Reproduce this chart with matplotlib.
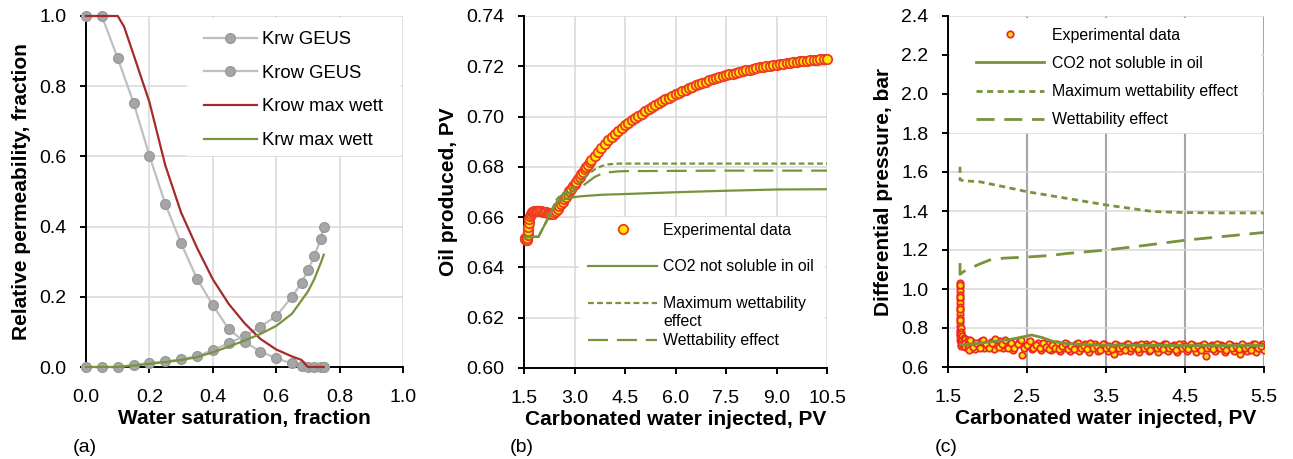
import matplotlib
matplotlib.use('Agg')
import matplotlib.pyplot as plt
from matplotlib.patches import Rectangle

plt.rcParams['font.family'] = ['Liberation Sans', 'DejaVu Sans']

# ---------------- Panel (a) data ----------------
sw_geus = [0.00, 0.05, 0.10, 0.15, 0.20, 0.25, 0.30, 0.35, 0.40, 0.45, 0.50, 0.55,
           0.60, 0.65, 0.68, 0.70, 0.72, 0.74, 0.75]
krw_geus = [0.000, 0.000, 0.000, 0.006, 0.012, 0.016, 0.022, 0.031, 0.048, 0.068, 0.088,
            0.115, 0.145, 0.200, 0.240, 0.276, 0.315, 0.364, 0.400]
krow_geus = [1.000, 1.000, 0.880, 0.753, 0.602, 0.465, 0.352, 0.252, 0.176, 0.108, 0.072,
             0.044, 0.025, 0.010, 0.003, 0.000, 0.000, 0.000, 0.000]
sw_krow_mw = [0.00, 0.10, 0.12, 0.15, 0.20, 0.25, 0.30, 0.35, 0.40, 0.45, 0.50, 0.55,
              0.60, 0.65, 0.68, 0.70, 0.75]
krow_mw = [1.000, 1.000, 0.970, 0.890, 0.755, 0.575, 0.440, 0.340, 0.250, 0.180, 0.125,
           0.080, 0.050, 0.030, 0.020, 0.000, 0.000]
sw_krw_mw = [0.00, 0.10, 0.15, 0.20, 0.25, 0.30, 0.35, 0.40, 0.45, 0.50, 0.55, 0.60,
             0.65, 0.70, 0.72, 0.74, 0.75]
krw_mw = [0.000, 0.000, 0.004, 0.009, 0.014, 0.020, 0.028, 0.042, 0.058, 0.075, 0.094,
          0.117, 0.152, 0.215, 0.250, 0.295, 0.320]
ticks_a = [0.0, 0.2, 0.4, 0.6, 0.8, 1.0]
ticklabels_a = ['0.0', '0.2', '0.4', '0.6', '0.8', '1.0']

# ---------------- Panel (b) data ----------------
pv_exp_b = [1.52, 1.54, 1.56, 1.58, 1.60, 1.61, 1.62, 1.63, 1.64, 1.66, 1.68, 1.70, 1.73,
            1.76, 1.80, 1.85, 1.90, 1.95, 2.00, 2.05, 2.10, 2.15, 2.20, 2.25, 2.30, 2.35,
            2.40, 2.45, 2.50, 2.55, 2.60, 2.65, 2.70, 2.75, 2.80, 2.85, 2.90, 2.95, 3.00,
            3.05, 3.10, 3.15, 3.20, 3.25, 3.30, 3.35, 3.40, 3.45, 3.50, 3.60, 3.70, 3.80,
            3.90, 4.00, 4.10, 4.20, 4.30, 4.40, 4.50, 4.60, 4.70, 4.80, 4.90, 5.00, 5.10,
            5.20, 5.30, 5.40, 5.50, 5.60, 5.70, 5.80, 5.90, 6.00, 6.10, 6.20, 6.30, 6.40,
            6.50, 6.60, 6.70, 6.80, 6.90, 7.00, 7.10, 7.20, 7.30, 7.40, 7.50, 7.60, 7.70,
            7.80, 7.90, 8.00, 8.10, 8.20, 8.30, 8.40, 8.50, 8.60, 8.70, 8.80, 8.90, 9.00,
            9.10, 9.20, 9.30, 9.40, 9.50, 9.60, 9.70, 9.80, 9.90, 10.00, 10.10, 10.20,
            10.30, 10.40, 10.50]
oil_exp_b = [0.6518, 0.6512, 0.6510, 0.6511, 0.6518, 0.6530, 0.6545, 0.6560, 0.6575, 0.6592,
             0.6605, 0.6613, 0.6619, 0.6622, 0.6623, 0.6624, 0.6624, 0.6623, 0.6623, 0.6622,
             0.6621, 0.6619, 0.6616, 0.6613, 0.6612, 0.6614, 0.6619, 0.6626, 0.6634, 0.6643,
             0.6652, 0.6662, 0.6672, 0.6682, 0.6692, 0.6702, 0.6712, 0.6722, 0.6731, 0.6741,
             0.6751, 0.6761, 0.6771, 0.6781, 0.6790, 0.6800, 0.6809, 0.6818, 0.6827, 0.6844,
             0.6860, 0.6876, 0.6891, 0.6905, 0.6918, 0.6931, 0.6943, 0.6954, 0.6965, 0.6975,
             0.6985, 0.6994, 0.7003, 0.7012, 0.7021, 0.7030, 0.7038, 0.7046, 0.7054, 0.7061,
             0.7068, 0.7075, 0.7082, 0.7089, 0.7095, 0.7101, 0.7107, 0.7113, 0.7119, 0.7124,
             0.7129, 0.7134, 0.7139, 0.7144, 0.7148, 0.7152, 0.7156, 0.7160, 0.7164, 0.7168,
             0.7171, 0.7175, 0.7178, 0.7181, 0.7184, 0.7187, 0.7190, 0.7193, 0.7196, 0.7198,
             0.7201, 0.7203, 0.7205, 0.7207, 0.7209, 0.7211, 0.7213, 0.7215, 0.7217, 0.7218,
             0.7220, 0.7221, 0.7223, 0.7224, 0.7225, 0.7226, 0.7227, 0.7228, 0.7229]
pv_sim_b = [1.50, 1.70, 1.93, 2.20, 2.47, 2.60, 2.80, 3.00, 3.20, 3.40, 3.60, 3.80, 4.00,
            4.30, 4.50, 6.00, 7.50, 9.00, 10.50]
co2_insol_b = [0.6520, 0.6521, 0.6522, 0.6592, 0.6660, 0.6668, 0.6675, 0.6680, 0.6683,
               0.6685, 0.6687, 0.6689, 0.6690, 0.6691, 0.6692, 0.6699, 0.6705, 0.6710, 0.6711]
max_wett_b = [0.6520, 0.6521, 0.6522, 0.6592, 0.6670, 0.6690, 0.6705, 0.6722, 0.6745,
              0.6770, 0.6790, 0.6803, 0.6810, 0.6813, 0.6813, 0.6813, 0.6813, 0.6813, 0.6813]
wett_b = [0.6520, 0.6521, 0.6522, 0.6592, 0.6668, 0.6685, 0.6695, 0.6705, 0.6720,
          0.6740, 0.6760, 0.6772, 0.6778, 0.6782, 0.6783, 0.6784, 0.6785, 0.6785, 0.6785]
xticks_b = [1.5, 3.0, 4.5, 6.0, 7.5, 9.0, 10.5]
xticklabels_b = ['1.5', '3.0', '4.5', '6.0', '7.5', '9.0', '10.5']
yticks_b = [0.60, 0.62, 0.64, 0.66, 0.68, 0.70, 0.72, 0.74]
yticklabels_b = ['0.60', '0.62', '0.64', '0.66', '0.68', '0.70', '0.72', '0.74']

# ---------------- Panel (c) data ----------------
pv_exp_c = [1.650, 1.650, 1.650, 1.650, 1.650, 1.650, 1.650, 1.650, 1.650, 1.650, 1.650,
            1.650, 1.650, 1.650, 1.655, 1.655, 1.655, 1.655, 1.655, 1.655, 1.655,
            1.66, 1.66, 1.66, 1.66, 1.66, 1.67, 1.67, 1.67, 1.67, 1.68, 1.68, 1.68,
            1.70, 1.70, 1.70, 1.72, 1.72, 1.72, 1.75, 1.75, 1.75, 1.77,
            1.80, 1.84, 1.88, 1.92, 1.96, 2.00, 2.04, 2.08, 2.12, 2.16, 2.20, 2.24, 2.28,
            2.32, 2.36, 2.40, 2.44, 2.48, 2.52, 2.56, 2.60, 2.64, 2.68, 2.72, 2.76, 2.80,
            2.84, 2.88, 2.92, 2.96, 3.00, 3.04, 3.08, 3.12, 3.16, 3.20, 3.24, 3.28, 3.32,
            3.36, 3.40, 3.44, 3.48, 3.52, 3.56, 3.60, 3.64, 3.68, 3.72, 3.76, 3.80, 3.84,
            3.88, 3.92, 3.96, 4.00, 4.04, 4.08, 4.12, 4.16, 4.20, 4.24, 4.28, 4.32, 4.36,
            4.40, 4.44, 4.48, 4.52, 4.56, 4.60, 4.64, 4.68, 4.72, 4.76, 4.80, 4.84, 4.88,
            4.92, 4.96, 5.00, 5.04, 5.08, 5.12, 5.16, 5.20, 5.24, 5.28, 5.32, 5.36, 5.40,
            5.44, 5.48, 5.50]
dp_exp_c = [1.03, 1.01, 0.99, 0.97, 0.95, 0.93, 0.91, 0.89, 0.87, 0.85, 0.83,
            0.81, 0.79, 0.77, 1.02, 0.96, 0.90, 0.84, 0.78, 0.76, 0.74,
            0.80, 0.78, 0.76, 0.74, 0.72, 0.77, 0.75, 0.73, 0.71, 0.76, 0.74, 0.72,
            0.75, 0.73, 0.71, 0.745, 0.725, 0.705, 0.74, 0.72, 0.70, 0.687,
            0.730, 0.690, 0.715, 0.735, 0.695, 0.710, 0.730, 0.690, 0.715, 0.735, 0.695,
            0.710, 0.730, 0.685, 0.715, 0.730, 0.660, 0.705, 0.725, 0.690, 0.710, 0.725,
            0.685, 0.705, 0.720, 0.685, 0.700, 0.720, 0.680, 0.700, 0.720, 0.680, 0.700,
            0.720, 0.680, 0.700, 0.720, 0.675, 0.700, 0.720, 0.680, 0.700, 0.720, 0.680,
            0.695, 0.665, 0.715, 0.680, 0.700, 0.720, 0.680, 0.700, 0.715, 0.675, 0.700,
            0.720, 0.680, 0.695, 0.715, 0.675, 0.700, 0.720, 0.680, 0.695, 0.715, 0.675,
            0.700, 0.720, 0.680, 0.695, 0.715, 0.675, 0.700, 0.715, 0.655, 0.695, 0.715,
            0.680, 0.700, 0.715, 0.675, 0.695, 0.715, 0.680, 0.700, 0.665, 0.715, 0.680,
            0.700, 0.720, 0.675, 0.695, 0.720, 0.685]
pv_exp_c2 = [1.78, 1.82, 1.86, 1.90, 1.94, 1.98, 2.02, 2.06, 2.10, 2.14,
             2.18, 2.22, 2.26, 2.30, 2.34, 2.38, 2.42, 2.46, 2.50, 2.54,
             2.58, 2.62, 2.66, 2.70, 2.74, 2.78, 2.82, 2.86, 2.90, 2.94,
             2.98, 3.02, 3.06, 3.10, 3.14, 3.18, 3.22, 3.26, 3.30, 3.34,
             3.38, 3.42, 3.46, 3.50, 3.54, 3.58, 3.62, 3.66, 3.70, 3.74,
             3.78, 3.82, 3.86, 3.90, 3.94, 3.98, 4.02, 4.06, 4.10, 4.14,
             4.18, 4.22, 4.26, 4.30, 4.34, 4.38, 4.42, 4.46, 4.50, 4.54,
             4.58, 4.62, 4.66, 4.70, 4.74, 4.78, 4.82, 4.86, 4.90, 4.94,
             4.98, 5.02, 5.06, 5.10, 5.14, 5.18, 5.22, 5.26, 5.30, 5.34,
             5.38, 5.42, 5.46]
dp_exp_c2 = [0.740, 0.705, 0.725, 0.700, 0.740, 0.720, 0.700, 0.725, 0.745, 0.705,
             0.720, 0.740, 0.700, 0.725, 0.700, 0.720, 0.740, 0.695, 0.715, 0.735,
             0.700, 0.715, 0.695, 0.725, 0.705, 0.690, 0.715, 0.700, 0.690, 0.710,
             0.725, 0.690, 0.710, 0.690, 0.725, 0.695, 0.710, 0.690, 0.725, 0.695,
             0.710, 0.685, 0.720, 0.695, 0.710, 0.690, 0.720, 0.695, 0.710, 0.685,
             0.720, 0.695, 0.710, 0.690, 0.720, 0.695, 0.710, 0.685, 0.720, 0.695,
             0.710, 0.690, 0.720, 0.695, 0.710, 0.685, 0.720, 0.695, 0.710, 0.690,
             0.720, 0.695, 0.710, 0.685, 0.720, 0.695, 0.710, 0.690, 0.720, 0.695,
             0.710, 0.685, 0.720, 0.695, 0.710, 0.690, 0.720, 0.695, 0.710, 0.685,
             0.720, 0.695, 0.710]
pv_co2_c = [1.66, 1.70, 2.00, 2.30, 2.56, 2.70, 2.83, 3.00, 3.34, 4.00, 4.50, 5.00, 5.50]
co2_insol_c = [0.715, 0.713, 0.727, 0.742, 0.764, 0.750, 0.731, 0.720, 0.713, 0.711,
               0.710, 0.710, 0.710]
pv_maxw_c = [1.652, 1.652, 1.70, 1.90, 2.20, 2.50, 3.00, 3.50, 4.10, 4.50, 5.00, 5.50]
max_wett_c = [1.627, 1.560, 1.555, 1.550, 1.525, 1.499, 1.465, 1.431, 1.397, 1.392,
              1.390, 1.390]
pv_wett_c = [1.652, 1.652, 1.70, 1.78, 1.90, 2.03, 2.20, 2.50, 2.80, 3.00, 3.51, 4.00,
             4.52, 5.00, 5.50]
wett_c = [1.133, 1.075, 1.090, 1.106, 1.128, 1.149, 1.158, 1.164, 1.172, 1.182, 1.200,
          1.224, 1.251, 1.270, 1.290]
xticks_c = [1.5, 2.5, 3.5, 4.5, 5.5]
xticklabels_c = ['1.5', '2.5', '3.5', '4.5', '5.5']
yticks_c = [0.6, 0.8, 1.0, 1.2, 1.4, 1.6, 1.8, 2.0, 2.2, 2.4]
yticklabels_c = ['0.6', '0.8', '1.0', '1.2', '1.4', '1.6', '1.8', '2.0', '2.2', '2.4']

# ---------------- styling ----------------
GRID = '#D9D9D9'
GRID_DARK = '#A6A6A6'
GRAY_LINE = '#BFBFBF'
GRAY_MK = '#A6A6A6'
RED = '#A52A2A'
GREEN = '#77933C'
YEL = '#FFE800'
ORG = '#EE3A22'
TICK_FS = 14
LABEL_FS = 15
W, H = 1293, 459

fig = plt.figure(figsize=(W / 100, H / 100), dpi=100)


def px_axes(x0, x1, ytop, ybot):
    return fig.add_axes([x0 / W, 1 - ybot / H, (x1 - x0) / W, (ybot - ytop) / H])


def style(ax, xt, xtl, yt, ytl, vgrid=GRID, vlw=1.1):
    ax.set_xticks(xt)
    ax.set_xticklabels(xtl)
    ax.set_yticks(yt)
    ax.set_yticklabels(ytl)
    ax.set_axisbelow(True)
    ax.grid(True, axis='y', color=GRID, lw=1.1)
    ax.grid(True, axis='x', color=vgrid, lw=vlw)
    for s in ('top', 'right'):
        ax.spines[s].set_visible(False)
    for s in ('left', 'bottom'):
        ax.spines[s].set_linewidth(1.4)
        ax.spines[s].set_color('black')
    ax.tick_params(direction='out', length=4, width=1.4, labelsize=TICK_FS, colors='black')
    ax.tick_params(axis='x', pad=12)
    ax.tick_params(axis='y', pad=10)


def white_box(ax, x0, y0, x1, y1):
    ax.add_patch(Rectangle((x0, y0), x1 - x0, y1 - y0, transform=ax.transAxes,
                           facecolor='white', edgecolor='none', zorder=1))


# ---------------- (a) ----------------
axa = px_axes(86, 403, 16, 367)
style(axa, ticks_a, ticklabels_a, ticks_a, ticklabels_a)
axa.set_xlim(0, 1)
axa.set_ylim(0, 1)
white_box(axa, 0.318, 0.60, 0.995, 0.995)
axa.plot(sw_geus, krw_geus, color=GRAY_LINE, lw=1.6, marker='o', ms=7,
         mfc=GRAY_MK, mec='#999999', mew=1.0, label='Krw GEUS', clip_on=False, zorder=3)
axa.plot(sw_geus, krow_geus, color=GRAY_LINE, lw=1.6, marker='o', ms=7,
         mfc=GRAY_MK, mec='#999999', mew=1.0, label='Krow GEUS', clip_on=False, zorder=3)
axa.plot(sw_krow_mw, krow_mw, color=RED, lw=1.6, label='Krow max wett', clip_on=False, zorder=4)
axa.plot(sw_krw_mw, krw_mw, color=GREEN, lw=1.6, label='Krw max wett', clip_on=False, zorder=4)
axa.legend(loc='upper left', bbox_to_anchor=(0.372, 0.957), frameon=False, borderpad=0,
           borderaxespad=0, fontsize=13.3, handlelength=2.86, handletextpad=0.27,
           labelspacing=0.90, numpoints=1)
axa.set_xlabel('Water saturation, fraction', fontsize=LABEL_FS, fontweight='bold', labelpad=2)
axa.set_ylabel('Relative permeability, fraction', fontsize=LABEL_FS, fontweight='bold',
               labelpad=6)

# ---------------- (b) ----------------
axb = px_axes(524, 827, 16, 368)
style(axb, xticks_b, xticklabels_b, yticks_b, yticklabels_b)
axb.set_xlim(1.5, 10.5)
axb.set_ylim(0.60, 0.74)
white_box(axb, 0.18, 0.003, 0.993, 0.429)
axb.plot(pv_exp_b, oil_exp_b, ls='none', marker='o', ms=6.8, mfc=YEL, mec=ORG, mew=1.3,
         label='Experimental data', clip_on=False, zorder=3)
axb.plot(pv_sim_b, co2_insol_b, color=GREEN, lw=1.6, label='CO2 not soluble in oil', zorder=4)
axb.plot(pv_sim_b, max_wett_b, color=GREEN, lw=1.6, ls=(0, (2.6, 1.5)),
         label='Maximum wettability', zorder=4)
axb.plot(pv_sim_b, wett_b, color=GREEN, lw=1.6, ls=(0, (9, 4)),
         label='Wettability effect', zorder=4)
legb = axb.legend(loc='upper left', bbox_to_anchor=(0.211, 0.413), frameon=False,
                  borderpad=0, borderaxespad=0, fontsize=11.4, handlelength=4.37,
                  handletextpad=0.38, labelspacing=1.38, numpoints=1)
axb.set_xlabel('Carbonated water injected, PV', fontsize=LABEL_FS, fontweight='bold',
               labelpad=2)
axb.set_ylabel('Oil produced, PV', fontsize=LABEL_FS, fontweight='bold', labelpad=6)

# ---------------- (c) ----------------
axc = px_axes(948, 1264, 16, 367)
style(axc, xticks_c, xticklabels_c, yticks_c, yticklabels_c, vgrid=GRID_DARK, vlw=1.5)
axc.set_xlim(1.5, 5.5)
axc.set_ylim(0.6, 2.4)
white_box(axc, 0.005, 0.667, 0.99, 0.995)
axc.plot(pv_exp_c, dp_exp_c, ls='none', marker='o', ms=4.6, mfc=YEL, mec='#F02820', mew=1.3,
         label='Experimental data', zorder=3)
axc.plot(pv_exp_c2, dp_exp_c2, ls='none', marker='o', ms=4.6, mfc=YEL, mec='#F02820',
         mew=1.3, zorder=3)
axc.plot(pv_co2_c, co2_insol_c, color=GREEN, lw=2.0, label='CO2 not soluble in oil', zorder=4)
axc.plot(pv_maxw_c, max_wett_c, color=GREEN, lw=2.0, ls=(0, (2.2, 1.6)),
         label='Maximum wettability effect', zorder=4)
axc.plot(pv_wett_c, wett_c, color=GREEN, lw=2.0, ls=(0, (6.5, 3.5)),
         label='Wettability effect', zorder=4)
axc.legend(loc='upper left', bbox_to_anchor=(0.0886, 0.967), frameon=False, borderpad=0,
           borderaxespad=0, fontsize=11.4, handlelength=4.3, handletextpad=0.5,
           labelspacing=0.84, numpoints=1)
axc.set_xlabel('Carbonated water injected, PV', fontsize=LABEL_FS, fontweight='bold',
               labelpad=2)
axc.set_ylabel('Differential pressure, bar', fontsize=LABEL_FS, fontweight='bold', labelpad=6)

# second line of the wrapped legend label in (b)
fig.canvas.draw()
r = fig.canvas.get_renderer()
bb = legb.get_texts()[2].get_window_extent(r)
fig.text(bb.x0 / W, (bb.y0 - 18) / H, 'effect', fontsize=11.4, ha='left', va='bottom')

# panel letters
for lx, lab in [(73, '(a)'), (510, '(b)'), (935, '(c)')]:
    fig.text(lx / W, 1 - 447 / H, lab, fontsize=TICK_FS, ha='left', va='center')

fig.savefig('out.png', dpi=100)
